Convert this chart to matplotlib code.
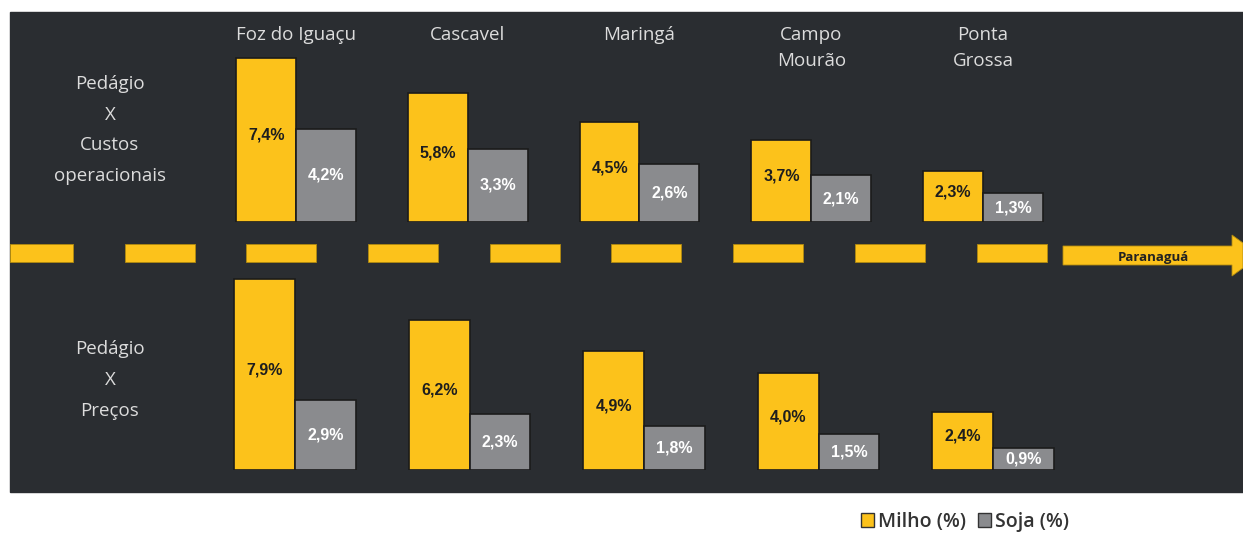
import numpy as np
import matplotlib.pyplot as plt
import matplotlib.transforms as mtrans
from matplotlib.patches import Rectangle, Polygon, Patch

cidades = ['Foz do Iguaçu', 'Cascavel', 'Maringá', 'Campo\nMourão', 'Ponta\nGrossa']
milho_custos = [7.4, 5.8, 4.5, 3.7, 2.3]
soja_custos = [4.2, 3.3, 2.6, 2.1, 1.3]
milho_precos = [7.9, 6.2, 4.9, 4.0, 2.4]
soja_precos = [2.9, 2.3, 1.8, 1.5, 0.9]

W, H = 1243, 538
AMARELO = '#fcc21b'
CINZA = '#8a8b8e'
FUNDO = '#2a2d31'


def fx(px):
    return px / W


def fy(py):
    return 1 - py / H


def rotulo(v):
    return ('%.1f%%' % v).replace('.', ',')


fig = plt.figure(figsize=(W / 100, H / 100), dpi=100)
fig.patch.set_facecolor('white')

# painel escuro
fig.add_artist(Rectangle((fx(10), fy(492)), fx(1233), 480 / H,
                         transform=fig.transFigure, color=FUNDO, zorder=0))

# camada de decoracao (coordenadas em pixels)
deco = fig.add_axes([0, 0, 1, 1])
deco.set_xlim(0, W)
deco.set_ylim(H, 0)
deco.axis('off')
deco.patch.set_alpha(0)

# estrada tracejada
for k in range(9):
    x0 = 3 + k * 121.7
    x1 = x0 + 70
    x0 = max(x0, 10)
    deco.add_patch(Rectangle((x0, 244), x1 - x0, 18, facecolor=AMARELO,
                             edgecolor='#b08a10', lw=0.6))
deco.add_patch(Polygon([(1063, 246), (1232, 246), (1232, 235), (1243, 243),
                        (1243, 268), (1232, 276), (1232, 265), (1063, 265)],
                       closed=True, facecolor=AMARELO, edgecolor='#b08a10', lw=0.6))
deco.text(1153, 257, 'Paranaguá', ha='center', va='center', fontsize=9.5,
          fontweight='bold', color='#222222', family='Open Sans')

deco.text(110, 130, 'Pedágio\nX\nCustos\noperacionais', ha='center', va='center',
          fontsize=13.5, color='#dcdcdc', family='Open Sans', linespacing=1.92)
deco.text(110, 380, 'Pedágio\nX\nPreços', ha='center', va='center',
          fontsize=13.5, color='#dcdcdc', family='Open Sans', linespacing=1.92)


def painel(pos, milho, soja, ymax):
    ax = fig.add_axes(pos)
    ax.set_xlim(-1.5, 5.5)
    ax.set_ylim(0, ymax)
    ax.axis('off')
    ax.patch.set_alpha(0)
    x = np.arange(len(milho))
    w = 0.348
    b1 = ax.bar(x - w / 2, milho, w, color=AMARELO, edgecolor='#1b1b1b', lw=1.2)
    b2 = ax.bar(x + w / 2, soja, w, color=CINZA, edgecolor='#1b1b1b', lw=1.2)
    for r, v in zip(b1, milho):
        ax.text(r.get_x() + r.get_width() / 2, v / 2 + 0.2, rotulo(v), ha='center',
                va='center', fontsize=11.5, fontweight='bold', color='#1e1e1e',
                family='Liberation Sans')
    for r, v in zip(b2, soja):
        ax.text(r.get_x() + r.get_width() / 2, v / 2, rotulo(v), ha='center',
                va='center', fontsize=11.5, fontweight='bold', color='white',
                family='Liberation Sans')
    return ax


top = painel([fx(38.4), fy(222), fx(1202.2), 210 / H], milho_custos, soja_custos,
             210 / 22.2)
bot = painel([fx(33.3), fy(470), fx(1221.5), 208 / H], milho_precos, soja_precos,
             208 / 24.2)

tr = mtrans.blended_transform_factory(top.transData, deco.transData)
for i, c in enumerate(cidades):
    top.text(i, 26, c, transform=tr, ha='center', va='top',
             fontsize=13.5, color='#dcdcdc', family='Open Sans', linespacing=1.58)

handles = [Patch(facecolor=AMARELO, edgecolor='#333333', label='Milho (%)'),
           Patch(facecolor=CINZA, edgecolor='#333333', label='Soja (%)')]
fig.legend(handles=handles, loc='center', bbox_to_anchor=(fx(965), fy(522)), ncol=2,
           frameon=False, handlelength=0.7, handleheight=0.7, handletextpad=0.2,
           columnspacing=0.6, prop={'family': 'Open Sans', 'weight': 'semibold', 'size': 14},
           labelcolor='#333333')

fig.savefig('out.png', dpi=100, facecolor='white')
